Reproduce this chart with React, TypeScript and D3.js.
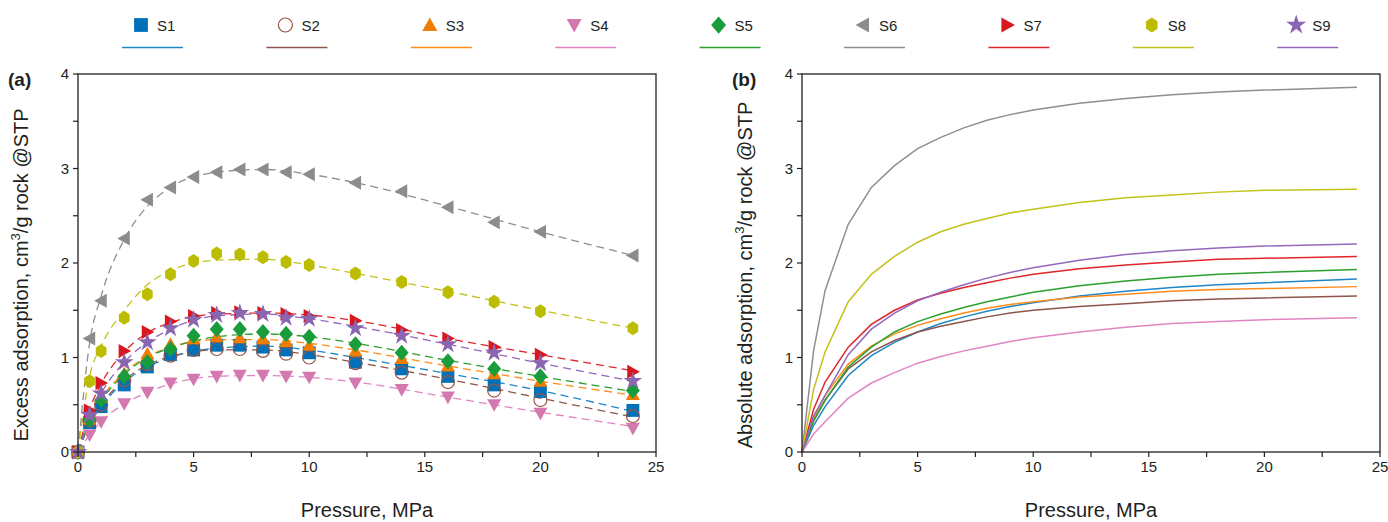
import * as d3 from "d3";

// pressures (MPa) for measured points
const pressure = [0, 0.5, 1, 2, 3, 4, 5, 6, 7, 8, 9, 10, 12, 14, 16, 18, 20, 24];
// pressures used for the fitted (dashed) curves
const fitPressure = [0, 0.5, 1, 2, 3, 4, 6, 8, 10, 12, 16, 20, 24];

const names = ["S1", "S2", "S3", "S4", "S5", "S6", "S7", "S8", "S9"];
const markerColors = ["#0071b8", "#9a5446", "#f07d00", "#d478b0", "#189c3c", "#8c8c8c", "#d7191f", "#bcbc00", "#8a66b2"];
const lineColors = ["#1f86c8", "#8c564b", "#ff8c1a", "#e085c2", "#2ca02c", "#8f8f8f", "#e0252b", "#c2c21a", "#9467bd"];
const shapes = ["square", "circle", "triangleUp", "triangleDown", "diamond", "triangleLeft", "triangleRight", "hexagon", "star"];

// (a) excess adsorption, measured
const excS1 = [0, 0.31, 0.48, 0.71, 0.9, 1.03, 1.08, 1.13, 1.13, 1.11, 1.08, 1.05, 0.95, 0.88, 0.8, 0.71, 0.64, 0.44];
const excS2 = [0, 0.33, 0.5, 0.76, 0.93, 1.02, 1.08, 1.09, 1.09, 1.07, 1.04, 1.0, 0.94, 0.84, 0.74, 0.65, 0.55, 0.38];
const excS3 = [0, 0.35, 0.58, 0.83, 1.04, 1.14, 1.2, 1.22, 1.21, 1.2, 1.17, 1.13, 1.07, 0.99, 0.91, 0.83, 0.75, 0.61];
const excS4 = [0, 0.18, 0.32, 0.51, 0.63, 0.73, 0.77, 0.8, 0.81, 0.81, 0.8, 0.79, 0.73, 0.66, 0.58, 0.5, 0.41, 0.25];
const excS5 = [0, 0.34, 0.55, 0.8, 0.95, 1.09, 1.23, 1.3, 1.3, 1.27, 1.25, 1.22, 1.14, 1.05, 0.96, 0.88, 0.8, 0.65];
const excS6 = [0, 1.2, 1.6, 2.26, 2.67, 2.8, 2.91, 2.96, 2.99, 2.99, 2.96, 2.94, 2.85, 2.76, 2.59, 2.43, 2.33, 2.08];
const excS7 = [0, 0.44, 0.73, 1.07, 1.27, 1.38, 1.44, 1.47, 1.48, 1.47, 1.46, 1.44, 1.39, 1.29, 1.2, 1.11, 1.03, 0.85];
const excS8 = [0, 0.75, 1.07, 1.42, 1.67, 1.88, 2.02, 2.1, 2.09, 2.06, 2.01, 1.98, 1.89, 1.8, 1.69, 1.59, 1.49, 1.31];
const excS9 = [0, 0.39, 0.62, 0.95, 1.16, 1.31, 1.4, 1.45, 1.47, 1.46, 1.42, 1.41, 1.31, 1.23, 1.14, 1.05, 0.94, 0.75];

// (a) excess adsorption, fitted curves
const fitS1 = [0, 0.29, 0.48, 0.74, 0.9, 1.0, 1.1, 1.12, 1.08, 1.0, 0.83, 0.65, 0.43];
const fitS2 = [0, 0.3, 0.5, 0.76, 0.92, 1.01, 1.08, 1.08, 1.03, 0.95, 0.77, 0.57, 0.37];
const fitS3 = [0, 0.33, 0.56, 0.84, 1.01, 1.11, 1.19, 1.19, 1.15, 1.08, 0.91, 0.75, 0.6];
const fitS4 = [0, 0.18, 0.32, 0.51, 0.63, 0.72, 0.8, 0.81, 0.79, 0.74, 0.58, 0.42, 0.27];
const fitS5 = [0, 0.32, 0.54, 0.82, 1.0, 1.1, 1.22, 1.25, 1.22, 1.15, 0.97, 0.8, 0.64];
const fitS6 = [0, 1.15, 1.65, 2.25, 2.6, 2.8, 2.96, 2.99, 2.94, 2.85, 2.6, 2.33, 2.08];
const fitS7 = [0, 0.45, 0.72, 1.06, 1.26, 1.37, 1.46, 1.47, 1.45, 1.39, 1.2, 1.03, 0.86];
const fitS8 = [0, 0.8, 1.12, 1.5, 1.77, 1.92, 2.03, 2.04, 1.98, 1.89, 1.7, 1.5, 1.31];
const fitS9 = [0, 0.37, 0.62, 0.95, 1.16, 1.3, 1.44, 1.46, 1.41, 1.33, 1.14, 0.94, 0.75];

// (b) absolute adsorption
const absS1 = [0, 0.28, 0.48, 0.81, 1.02, 1.16, 1.27, 1.36, 1.43, 1.49, 1.54, 1.58, 1.65, 1.7, 1.74, 1.77, 1.79, 1.83];
const absS2 = [0, 0.33, 0.55, 0.88, 1.06, 1.18, 1.27, 1.33, 1.38, 1.43, 1.47, 1.5, 1.54, 1.57, 1.6, 1.62, 1.63, 1.65];
const absS3 = [0, 0.36, 0.6, 0.93, 1.12, 1.25, 1.34, 1.41, 1.47, 1.52, 1.56, 1.59, 1.64, 1.67, 1.7, 1.72, 1.73, 1.75];
const absS4 = [0, 0.19, 0.32, 0.57, 0.73, 0.84, 0.94, 1.01, 1.07, 1.12, 1.17, 1.21, 1.27, 1.32, 1.36, 1.38, 1.4, 1.42];
const absS5 = [0, 0.33, 0.55, 0.9, 1.11, 1.27, 1.38, 1.46, 1.53, 1.59, 1.64, 1.69, 1.76, 1.81, 1.85, 1.88, 1.9, 1.93];
const absS6 = [0, 1.07, 1.71, 2.41, 2.8, 3.03, 3.21, 3.33, 3.43, 3.51, 3.57, 3.62, 3.69, 3.74, 3.78, 3.81, 3.83, 3.86];
const absS7 = [0, 0.45, 0.74, 1.11, 1.35, 1.5, 1.61, 1.68, 1.74, 1.79, 1.84, 1.88, 1.94, 1.98, 2.01, 2.04, 2.05, 2.07];
const absS8 = [0, 0.66, 1.06, 1.59, 1.88, 2.07, 2.22, 2.33, 2.41, 2.47, 2.53, 2.57, 2.64, 2.69, 2.72, 2.75, 2.77, 2.78];
const absS9 = [0, 0.38, 0.6, 1.03, 1.3, 1.47, 1.6, 1.69, 1.77, 1.84, 1.9, 1.95, 2.03, 2.09, 2.13, 2.16, 2.18, 2.2];

const excess = [excS1, excS2, excS3, excS4, excS5, excS6, excS7, excS8, excS9];
const fits = [fitS1, fitS2, fitS3, fitS4, fitS5, fitS6, fitS7, fitS8, fitS9];
const absolute = [absS1, absS2, absS3, absS4, absS5, absS6, absS7, absS8, absS9];

const xTicks = [0, 5, 10, 15, 20, 25];
const yTicks = [0, 1, 2, 3, 4];

const FONT = "'Liberation Sans', Arial, sans-serif";
const AXIS = "#231f20";

function markerPath(shape: string, s: number) {
  const h = s / 2;
  switch (shape) {
    case "square":
      return `M${-h * 0.92},${-h * 0.92}H${h * 0.92}V${h * 0.92}H${-h * 0.92}Z`;
    case "circle":
      return d3.symbol(d3.symbolCircle, Math.PI * (h - 0.5) * (h - 0.5))()!;
    case "triangleUp":
      return `M0,${-h}L${h},${h * 0.8}L${-h},${h * 0.8}Z`;
    case "triangleDown":
      return `M0,${h}L${h},${-h * 0.8}L${-h},${-h * 0.8}Z`;
    case "triangleLeft":
      return `M${-h},0L${h * 0.8},${-h}L${h * 0.8},${h}Z`;
    case "triangleRight":
      return `M${h},0L${-h * 0.8},${-h}L${-h * 0.8},${h}Z`;
    case "diamond":
      return `M0,${-h * 1.15}L${h},0L0,${h * 1.15}L${-h},0Z`;
    case "hexagon": {
      const pts = d3.range(6).map((i) => {
        const a = (Math.PI / 3) * i - Math.PI / 2;
        return [h * 0.88 * Math.cos(a), h * Math.sin(a)];
      });
      return "M" + pts.map((p) => p.join(",")).join("L") + "Z";
    }
    case "star":
      return d3.symbol(d3.symbolStar, s * s * 0.55)()!;
    default:
      return "";
  }
}

function Marker({ shape, color, x, y, s }: { shape: string; color: string; x: number; y: number; s: number }) {
  const d = markerPath(shape, s);
  if (shape === "circle") {
    return <path d={d} transform={`translate(${x},${y})`} fill="none" stroke={color} strokeWidth={1.2} />;
  }
  return <path d={d} transform={`translate(${x},${y})`} fill={color} />;
}

function Panel({ left, right, top, bottom, label, yTitle, kind }: any) {
  const x = d3.scaleLinear().domain([0, 25]).range([left, right]);
  const y = d3.scaleLinear().domain([0, 4]).range([bottom, top]);
  const minorX = d3.range(0, 25.01, 2.5);
  const minorY = d3.range(0, 4.01, 0.5);
  const fitLine = d3
    .line<number>()
    .x((_, i) => x(fitPressure[i]))
    .y((d) => y(d))
    .curve(d3.curveMonotoneX);
  const absLine = d3
    .line<number>()
    .x((_, i) => x(pressure[i]))
    .y((d) => y(d));

  return (
    <g>
      {kind === "excess"
        ? fits.map((f, i) => (
            <path key={i} d={fitLine(f)!} fill="none" stroke={lineColors[i]} strokeWidth={1.3} strokeDasharray="8,5" />
          ))
        : absolute.map((a, i) => (
            <path key={i} d={absLine(a)!} fill="none" stroke={lineColors[i]} strokeWidth={1.5} />
          ))}
      {kind === "excess" &&
        excess.map((ser, i) => (
          <g key={i}>
            {ser.map((v, j) => (
              <Marker key={j} shape={shapes[i]} color={markerColors[i]} x={x(pressure[j])} y={y(v)} s={14} />
            ))}
          </g>
        ))}
      {/* frame */}
      <rect x={left} y={top} width={right - left} height={bottom - top} fill="none" stroke={AXIS} strokeWidth={1.3} />
      {minorX.map((t) => (
        <line key={"mx" + t} x1={x(t)} x2={x(t)} y1={bottom} y2={bottom + 5} stroke={AXIS} strokeWidth={1.2} />
      ))}
      {minorY.map((t) => (
        <line key={"my" + t} x1={left - 5} x2={left} y1={y(t)} y2={y(t)} stroke={AXIS} strokeWidth={1.2} />
      ))}
      {xTicks.map((t) => (
        <text key={"xt" + t} x={x(t)} y={bottom + 20} textAnchor="middle" fontSize={15} fill={AXIS}>
          {t}
        </text>
      ))}
      {yTicks.map((t) => (
        <text key={"yt" + t} x={left - 9} y={y(t) + 5} textAnchor="end" fontSize={15} fill={AXIS}>
          {t}
        </text>
      ))}
      <text x={(left + right) / 2} y={bottom + 65} textAnchor="middle" fontSize={20} fill={AXIS}>
        Pressure, MPa
      </text>
      <text
        transform={`translate(${left - 50},${(top + bottom) / 2 + 12}) rotate(-90)`}
        textAnchor="middle"
        fontSize={20}
        fill={AXIS}
      >
        {yTitle}, cm<tspan fontSize={13} dy={-8}>3</tspan>
        <tspan dy={8}>/g rock @STP</tspan>
      </text>
      <text x={left - 70} y={top + 12} fontSize={19} fontWeight="bold" fill={AXIS}>
        {label}
      </text>
    </g>
  );
}

export default function App() {
  const legendStart = 122;
  const legendStep = 144.4;
  return (
    <svg width={1388} height={522} style={{ position: "absolute", left: 0, top: 0, fontFamily: FONT }}>
      <rect width={1388} height={522} fill="white" />
      {names.map((n, i) => {
        const lx = legendStart + i * legendStep;
        return (
          <g key={n}>
            <Marker shape={shapes[i]} color={markerColors[i]} x={lx + 19} y={25} s={15} />
            <text x={lx + 35} y={31} fontSize={15} fill={AXIS}>
              {n}
            </text>
            <line x1={lx} x2={lx + 61} y1={47.5} y2={47.5} stroke={lineColors[i]} strokeWidth={1.5} />
          </g>
        );
      })}
      <Panel left={78} right={656} top={74} bottom={452} label="(a)" yTitle="Excess adsorption" kind="excess" />
      <Panel left={802} right={1380} top={74} bottom={452} label="(b)" yTitle="Absolute adsorption" kind="absolute" />
    </svg>
  );
}
